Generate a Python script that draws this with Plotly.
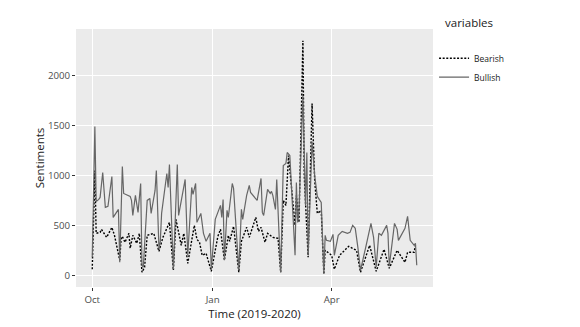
import plotly.graph_objects as go

# Bullish sentiment counts
bull_dates = [
    "2019-10-01", "2019-10-03", "2019-10-04", "2019-10-06", "2019-10-07", "2019-10-09", "2019-10-11",
    "2019-10-13", "2019-10-16", "2019-10-17", "2019-10-19", "2019-10-21", "2019-10-22", "2019-10-24",
    "2019-10-25", "2019-10-29", "2019-10-30", "2019-10-31", "2019-11-01", "2019-11-03", "2019-11-05",
    "2019-11-07", "2019-11-08", "2019-11-09", "2019-11-12", "2019-11-14", "2019-11-15", "2019-11-18",
    "2019-11-19", "2019-11-21", "2019-11-22", "2019-11-23", "2019-11-26", "2019-11-27", "2019-11-28",
    "2019-11-29", "2019-12-02", "2019-12-05", "2019-12-06", "2019-12-08", "2019-12-11", "2019-12-13",
    "2019-12-15", "2019-12-16", "2019-12-17", "2019-12-19", "2019-12-20", "2019-12-22", "2019-12-23",
    "2019-12-25", "2019-12-27", "2019-12-30", "2019-12-31", "2020-01-03", "2020-01-07", "2020-01-08",
    "2020-01-09", "2020-01-10", "2020-01-12", "2020-01-13", "2020-01-16", "2020-01-17", "2020-01-21",
    "2020-01-23", "2020-01-24", "2020-01-27", "2020-01-29", "2020-01-30", "2020-02-04", "2020-02-07",
    "2020-02-08", "2020-02-09", "2020-02-12", "2020-02-14", "2020-02-15", "2020-02-16", "2020-02-18",
    "2020-02-19", "2020-02-22", "2020-02-24", "2020-02-26", "2020-02-27", "2020-02-29", "2020-03-04",
    "2020-03-05", "2020-03-06", "2020-03-07", "2020-03-10", "2020-03-12", "2020-03-13", "2020-03-14",
    "2020-03-17", "2020-03-19", "2020-03-21", "2020-03-24", "2020-03-26", "2020-03-27", "2020-03-28",
    "2020-03-31", "2020-04-02", "2020-04-03", "2020-04-06", "2020-04-09", "2020-04-13", "2020-04-15",
    "2020-04-17", "2020-04-19", "2020-04-21", "2020-04-23", "2020-04-27", "2020-05-01", "2020-05-03",
    "2020-05-05", "2020-05-07", "2020-05-09", "2020-05-13", "2020-05-14", "2020-05-15", "2020-05-19",
    "2020-05-21", "2020-05-22", "2020-05-27", "2020-05-29", "2020-05-31", "2020-06-03", "2020-06-04",
    "2020-06-05",
]
bull_vals = [
    180, 1490, 740, 760, 780, 1030, 680,
    690, 990, 580, 620, 660, 130, 1090,
    820, 800, 790, 750, 600, 800, 630,
    920, 100, 80, 750, 770, 620, 850,
    1050, 260, 340, 620, 900, 1020, 880,
    1110, 60, 1110, 600, 740, 960, 200,
    650, 880, 810, 920, 530, 600, 620,
    420, 340, 420, 60, 560, 700, 580,
    760, 150, 650, 580, 920, 870, 50,
    660, 560, 800, 900, 830, 750, 970,
    630, 600, 860, 820, 840, 800, 660,
    960, 30, 1100, 1120, 1230, 1200, 200,
    930, 530, 650, 1800, 700, 1230, 200,
    1340, 1000, 790, 730, 20, 400, 350,
    340, 410, 200, 400, 440, 420, 430,
    500, 470, 280, 50, 280, 520, 380,
    80, 420, 400, 500, 420, 90, 520,
    460, 350, 470, 590, 350, 300, 320,
    100,
]

# Bearish sentiment counts
bear_dates = [
    "2019-10-01", "2019-10-03", "2019-10-04", "2019-10-07", "2019-10-08", "2019-10-12", "2019-10-16",
    "2019-10-18", "2019-10-22", "2019-10-23", "2019-10-24", "2019-10-26", "2019-10-29", "2019-10-30",
    "2019-11-01", "2019-11-04", "2019-11-06", "2019-11-08", "2019-11-10", "2019-11-12", "2019-11-17",
    "2019-11-21", "2019-11-24", "2019-11-29", "2019-12-02", "2019-12-04", "2019-12-08", "2019-12-10",
    "2019-12-13", "2019-12-18", "2019-12-20", "2019-12-22", "2019-12-24", "2019-12-27", "2019-12-31",
    "2020-01-05", "2020-01-07", "2020-01-08", "2020-01-10", "2020-01-13", "2020-01-14", "2020-01-17",
    "2020-01-21", "2020-01-23", "2020-01-27", "2020-01-29", "2020-02-03", "2020-02-05", "2020-02-07",
    "2020-02-10", "2020-02-12", "2020-02-16", "2020-02-20", "2020-02-22", "2020-02-24", "2020-02-26",
    "2020-02-27", "2020-02-28", "2020-03-04", "2020-03-05", "2020-03-07", "2020-03-10", "2020-03-11",
    "2020-03-14", "2020-03-17", "2020-03-19", "2020-03-21", "2020-03-24", "2020-03-26", "2020-03-27",
    "2020-04-01", "2020-04-03", "2020-04-07", "2020-04-14", "2020-04-20", "2020-04-23", "2020-04-30",
    "2020-05-05", "2020-05-11", "2020-05-15", "2020-05-21", "2020-05-27", "2020-05-29", "2020-06-03",
    "2020-06-04",
]
bear_vals = [
    60, 1050, 420, 430, 460, 380, 480,
    400, 150, 360, 390, 330, 420, 270,
    400, 320, 420, 30, 80, 400, 420,
    240, 380, 530, 50, 560, 300, 420,
    120, 500, 360, 330, 200, 220, 40,
    390, 460, 350, 150, 400, 340, 490,
    30, 340, 480, 380, 580, 440, 480,
    330, 420, 380, 370, 30, 750, 700,
    900, 1200, 500, 800, 530, 2350, 1000,
    180, 1720, 950, 620, 650, 10, 250,
    200, 60, 200, 290, 250, 30, 300,
    40, 260, 70, 250, 130, 230, 230,
    300,
]

x_tickvals = ["2019-10-01", "2020-01-01", "2020-04-01"]
x_ticktext = ["Oct", "Jan", "Apr"]
y_tickvals = [0, 500, 1000, 1500, 2000]

fig = go.Figure()
fig.add_trace(go.Scatter(x=bear_dates, y=bear_vals, name="Bearish", mode="lines",
                         line=dict(color="black", width=1.4, dash="2px,1.6px")))
fig.add_trace(go.Scatter(x=bull_dates, y=bull_vals, name="Bullish", mode="lines",
                         line=dict(color="#666666", width=1.2)))

font = "Open Sans, verdana, arial, sans-serif"
fig.update_layout(
    width=580, height=327,
    margin=dict(l=76, r=147, t=29, b=40, autoexpand=False),
    paper_bgcolor="white",
    plot_bgcolor="rgb(235,235,235)",
    font=dict(family=font, color="rgb(26,26,26)"),
    showlegend=True,
    legend=dict(
        x=1.003, y=0.943, xanchor="left", yanchor="top",
        bgcolor="rgba(0,0,0,0)",
        font=dict(size=8.5, color="rgb(26,26,26)"),
    ),
    # legend heading sits well above the items, as in the ggplot legend
    annotations=[dict(
        text="variables", xref="paper", yref="paper", x=1.028, y=1.027,
        xanchor="left", yanchor="middle", showarrow=False,
        font=dict(size=11.5, color="rgb(26,26,26)"),
    )],
)
fig.update_xaxes(
    range=["2019-09-18 14:00", "2020-06-17 10:00"],
    tickmode="array", tickvals=x_tickvals, ticktext=x_ticktext,
    ticks="outside", ticklen=3, tickcolor="rgb(51,51,51)", tickwidth=0.7,
    tickfont=dict(size=9.7, color="rgb(77,77,77)"),
    showgrid=True, gridcolor="white", gridwidth=1,
    zeroline=False, showline=False, automargin=True,
    title=dict(text="Time (2019-2020)", font=dict(size=11.5, color="rgb(26,26,26)"), standoff=3),
)
fig.update_yaxes(
    range=[-117.5, 2467.5],
    tickmode="array", tickvals=y_tickvals,
    ticks="outside", ticklen=3, tickcolor="rgb(51,51,51)", tickwidth=0.7,
    tickfont=dict(size=9.7, color="rgb(77,77,77)"),
    showgrid=True, gridcolor="white", gridwidth=1,
    zeroline=False, showline=False, automargin=True,
    title=dict(text="Sentiments", font=dict(size=11.5, color="rgb(26,26,26)"), standoff=0),
)

# the page body has a default 8px margin; drop it so the figure sits at the corner
fig.write_html("out.html", config={"displayModeBar": False},
               post_script="document.body.style.margin='0px';")
